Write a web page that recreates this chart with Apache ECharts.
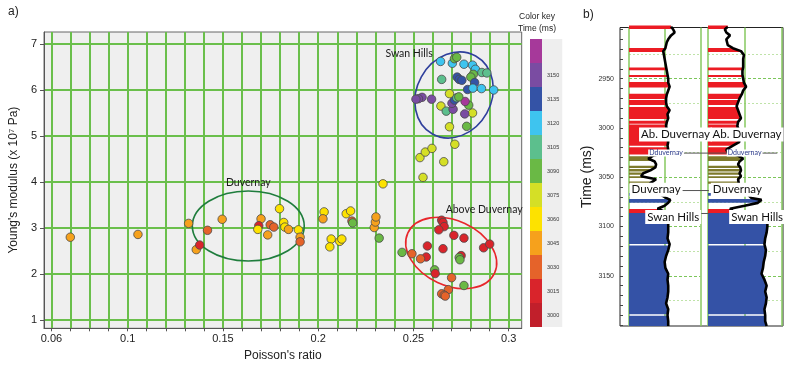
<!DOCTYPE html>
<html><head><meta charset="utf-8">
<script src="https://cdn.jsdelivr.net/npm/echarts@6/dist/echarts.min.js"></script>
<style>html,body{margin:0;padding:0;background:#fff}#c{width:800px;height:369px}</style>
</head><body><div id="c"></div>
<script>
// ===== Panel a: crossplot data =====
const poisson = [0.0699,0.1054,0.1320,0.1360,0.1378,0.1419,0.1496,0.1700,0.1688,0.1683,0.1735,0.1748,0.1767,0.1797,0.1819,0.1825,0.1844,0.1896,0.1905,0.1905,
 0.2031,0.2025,0.2068,0.2061,0.2113,0.2124,0.2147,0.2170,0.2177,0.2181,0.2294,0.2300,0.2303,0.2320,0.2340,
 0.2550,0.2534,0.2562,0.2597,0.2659,0.2717,
 0.2689,0.2779,0.2810,0.2769,0.2790,0.2771,0.2644,0.2672,0.2708,0.2702,0.2715,0.2727,0.2738,0.2689,0.2595,0.2545,0.2526,0.2513,
 0.2648,0.2642,0.2704,0.2715,0.2727,0.2765,0.2810,0.2825,0.2859,0.2885,0.2814,0.2801,0.2729,0.2740,0.2754,0.2821,0.2784,0.2812,0.2857,0.2921,
 0.2648,0.2655,0.2661,0.2633,0.2712,0.2765,0.2573,0.2655,0.2868,0.2900,0.2750,0.2567,
 0.2440,0.2492,0.2537,0.2740,0.2744,0.2611,0.2614,0.2700,0.2765,0.2683,0.2648,0.2661,0.2667];
const youngs = [2.80,2.86,3.10,2.53,2.63,2.95,3.19,3.20,3.05,2.97,2.85,3.07,3.02,3.42,3.12,3.02,2.97,2.96,2.80,2.70,
 3.35,3.20,2.76,2.59,2.71,2.76,3.31,3.37,3.15,3.11,3.01,3.13,3.24,2.78,3.96,
 4.10,4.53,4.65,4.73,4.44,4.82,
 5.20,5.21,5.50,5.48,5.67,5.75,5.65,5.54,5.58,5.71,5.78,5.83,5.85,5.92,5.80,5.84,5.81,5.80,
 6.23,6.62,6.58,6.68,6.71,6.56,6.54,6.45,6.38,6.37,6.34,6.28,6.28,6.23,6.21,6.16,6.01,6.04,6.03,6.00,
 3.17,3.12,3.03,2.96,2.84,2.78,2.61,2.55,2.57,2.65,2.40,2.37,
 2.47,2.44,2.33,2.36,2.31,2.09,2.01,1.92,1.75,1.66,1.57,1.54,1.52];
const timeMs = [3038,3038,3038,3038,3008,3022,3038,3038,3008,3052,3038,3022,3022,3052,3052,3052,3038,3052,3038,3022,
 3052,3038,3052,3052,3052,3052,3052,3052,3022,3082,3038,3038,3038,3082,3052,
 3068,3068,3068,3068,3068,3068,
 3068,3082,3068,3142,3082,3158,3068,3098,3142,3142,3128,3098,3082,3068,3142,3142,3142,3142,
 3098,3112,3112,3082,3082,3112,3112,3112,3098,3098,3082,3082,3128,3128,3128,3128,3128,3112,3112,3112,
 3008,3008,3008,3008,3008,3008,3008,3008,3008,3008,3008,3008,
 3082,3022,3022,3082,3082,3082,3008,3022,3082,3022,3022,3022,3022];
const xTickValues = [0.06,0.07,0.08,0.09,0.1,0.11,0.12,0.13,0.14,0.15,0.16,0.17,0.18,0.19,0.2,0.21,0.22,0.23,0.24,0.25,0.26,0.27,0.28,0.29,0.3];
const xLabelValues = [0.06,0.1,0.15,0.2,0.25,0.3];
const yTickValues = [1,2,3,4,5,6,7];
// colour key (bottom to top)
const keyLower  = [2985,3000,3015,3030,3045,3060,3075,3090,3105,3120,3135,3150];
const keyUpper  = [3000,3015,3030,3045,3060,3075,3090,3105,3120,3135,3150,3165];
const keyLabels = ['3000','3015','3030','3045','3060','3075','3090','3105','3120','3135','3150',' '];
const keyColors = ['#c11f2b','#d9242b','#e5632a','#f6a11c','#fde200','#d5df26','#6ab945','#5cbf8d','#3ec4ef','#3453a6','#7a4ca2','#a6399a'];
// zones
const zoneNames = ['Duvernay','Swan Hills','Above Duvernay'];
const zoneCenterX = [0.1633,0.2713,0.2698];
const zoneCenterY = [3.043,5.891,2.457];
const zoneRadiusX = [0.02937,0.02339,0.02507];
const zoneRadiusY = [0.761,0.813,0.7065];
const zoneTiltDeg = [0,-61,24.9];
const zoneLabelX = [0.1633,0.2477,0.2871];
const zoneLabelY = [3.98,6.79,3.39];
const zoneColors = ['#1f7d3d','#2f3f9c','#e8262b'];

// ===== Panel b: well log data =====
const logTime = [2897,2900,2903,2906,2910,2913,2916,2919,2922,2926,2930,2934,2938,2942,2946,2950,2954,2958,2962,2966,2970,2974,2978,2982,2986,2990,2994,2998,3002,3006,3010,3014,3018,3022,3025,3028,3031,3034,3037,3040,3043,3046,3049,3052,3056,3060,3064,3068,3071,3073,3076,3079,3082,3085,3088,3092,3096,3100,3106,3112,3118,3124,3130,3136,3142,3148,3154,3160,3166,3172,3178,3184,3190,3196,3201];
const logTrack1 = [0.59,0.62,0.64,0.59,0.55,0.53,0.52,0.51,0.48,0.49,0.50,0.51,0.52,0.53,0.54,0.55,0.55,0.57,0.55,0.53,0.52,0.52,0.53,0.57,0.54,0.55,0.53,0.52,0.53,0.54,0.53,0.55,0.54,0.55,0.53,0.34,0.27,0.36,0.38,0.37,0.30,0.20,0.17,0.38,0.30,0.25,0.35,0.45,0.52,0.58,0.55,0.50,0.40,0.50,0.53,0.54,0.55,0.55,0.55,0.54,0.57,0.55,0.52,0.50,0.51,0.55,0.54,0.55,0.55,0.54,0.52,0.55,0.54,0.55,0.55];
const logTrack2 = [0.27,0.23,0.25,0.30,0.25,0.26,0.27,0.34,0.45,0.49,0.48,0.48,0.48,0.47,0.47,0.48,0.49,0.52,0.48,0.46,0.43,0.41,0.39,0.41,0.43,0.45,0.41,0.40,0.42,0.41,0.40,0.43,0.34,0.25,0.27,0.41,0.48,0.43,0.41,0.44,0.45,0.43,0.45,0.41,0.42,0.45,0.50,0.55,0.59,0.73,0.68,0.50,0.30,0.35,0.72,0.80,0.81,0.81,0.80,0.78,0.77,0.79,0.78,0.76,0.75,0.73,0.77,0.80,0.78,0.80,0.79,0.77,0.78,0.78,0.80];
const lithoTop  = [2896,2918.8,2938.5,2946.3,2953.4,2965.2,2971.6,2978.7,2992.6,2996.5,3019.5,3028.8,3038.3,3041.7,3045.1,3049.1,3054.2,3066,3072,3082.3,3086.3,3119.2,3190.5];
const lithoBase = [2899.5,2922.9,2941.4,2948.3,2958.8,2970.6,2976.7,2990.9,2995.8,3018,3027,3033.6,3040.7,3044.1,3047.5,3050.8,3056.6,3068.8,3076,3086.3,3117.8,3189,3201];
const lithoUnit = ['A','A','A','A','A','A','A','A','A','A','A','D','D','D','D','D','D','S','S','A','S','S','S'];
const lithoColors = {A:'#ec1c24', D:'#7e7a2c', S:'#3452a6'};
const timeLabelValues = [2950,3000,3050,3100,3150];
const timeTickValues = [2900,2910,2920,2930,2940,2950,2960,2970,2980,2990,3000,3010,3020,3030,3040,3050,3060,3070,3080,3090,3100,3110,3120,3130,3140,3150,3160,3170,3180,3190,3200];
const timeMajorGrid = [2950,3000,3050,3100,3150];
const timeMinorGrid = [2925,2975,3025,3075,3125,3175];
const markerText = ['Ab. Duvernay','Dduvernay','Duvernay','Swan Hills'];
const markerTime = [3006.5,3025.5,3062.7,3090.4];

// annotation placement (track units)
const markerPos1 = [0.652,0.52,0.38,0.62];
const markerPos2 = [0.532,0.50,0.40,0.67];
const markerLineTime = [3025.5,3063.5,3086.8];
const markerLineFrom = [0.55,0.7,0.9];
const markerLineTo = [2.08,1.12,1.12];

const FONT = "'Liberation Sans', Arial, sans-serif";
const chart = echarts.init(document.getElementById('c'));

function interp(vals, t) {
  if (t <= logTime[0]) return vals[0];
  for (let k = 1; k < logTime.length; k++) {
    if (t <= logTime[k]) {
      const f = (t - logTime[k-1]) / (logTime[k] - logTime[k-1]);
      return vals[k-1] + f * (vals[k] - vals[k-1]);
    }
  }
  return vals[vals.length-1];
}
function lithoRender(vals) {
  return function (params, api) {
    const i = params.dataIndex;
    const t0 = lithoTop[i], t1 = lithoBase[i];
    const pts = [api.coord([0, t0]), api.coord([interp(vals, t0), t0])];
    for (let k = 0; k < logTime.length; k++) {
      if (logTime[k] > t0 && logTime[k] < t1) pts.push(api.coord([vals[k], logTime[k]]));
    }
    pts.push(api.coord([interp(vals, t1), t1]));
    pts.push(api.coord([0, t1]));
    return {type:'polygon', shape:{points:pts}, style:{fill: lithoColors[lithoUnit[i]]}};
  };
}
function labelRender(pos) {
  return function (params, api) {
    const i = params.dataIndex;
    const p = api.coord([pos[i], markerTime[i]]);
    const small = markerText[i] === 'Dduvernay';
    return {type:'text', x:p[0], y:p[1], style:{
      text: markerText[i], align:'center', verticalAlign:'middle',
      font: small ? "7px Lato, sans-serif" : "11.5px Lato, sans-serif",
      fill: small ? '#2b3a8a' : '#111',
      backgroundColor:'#fff', padding: small ? [0,1] : [1,2]
    }};
  };
}

const trackX = (gi) => ({gridIndex:gi, type:'value', min:0, max:1, interval:0.5,
  axisLine:{show:false}, axisTick:{show:false}, axisLabel:{show:false},
  splitLine:{show:true, lineStyle:{color:'#86c95f', width:1.5}}});
const trackY = (gi, vals, major) => ({gridIndex:gi, type:'value', inverse:true, min:2898, max:3201,
  axisLine:{show:false}, axisLabel:{show:false},
  axisTick:{show:false, customValues: vals},
  splitLine:{show:true, lineStyle: major ? {color:'#7cc65a', width:1, type:[3,2]} : {color:'#bfe3a8', width:1, type:[2,2]}}});

const option = {
  animation:false,
  textStyle:{fontFamily:FONT},
  grid:[
    {left:43.5, top:32, width:478.2, height:296.3, show:true, backgroundColor:'#efefef', borderColor:'#666', borderWidth:1},
    {left:620, top:27.5, width:163, height:298.5, show:true, backgroundColor:'#fff', borderColor:'#222', borderWidth:1},
    {left:629, top:27.5, width:71.3, height:298.5},
    {left:708, top:27.5, width:73.3, height:298.5}
  ],
  xAxis:[
    {gridIndex:0, type:'value', min:0.0561, max:0.3068,
     name:"Poisson's ratio", nameLocation:'middle', nameGap:19, nameTextStyle:{fontSize:12, color:'#222', fontFamily:FONT},
     axisLine:{show:true, onZero:false, lineStyle:{color:'#555'}},
     axisTick:{show:true, customValues:xTickValues, length:3, lineStyle:{color:'#555'}},
     axisLabel:{customValues:xLabelValues, fontSize:11, color:'#222', margin:5, formatter:(v)=>String(+v.toFixed(2))},
     splitLine:{show:true, lineStyle:{color:'#6abf4b', width:2}}},
    {gridIndex:1, type:'value', min:0, max:1, show:false},
    trackX(2), trackX(3)
  ],
  yAxis:[
    {gridIndex:0, type:'value', min:0.82, max:7.26,
     name:"Young's modulus (x 10\u2077 Pa)", nameLocation:'middle', nameGap:20, nameRotate:90,
     nameTextStyle:{fontSize:12, color:'#222', fontFamily:FONT},
     axisLine:{show:true, onZero:false, lineStyle:{color:'#555'}},
     axisTick:{show:true, customValues:yTickValues, length:4, lineStyle:{color:'#555'}},
     axisLabel:{customValues:yTickValues, fontSize:11, color:'#222', margin:7},
     splitLine:{show:true, lineStyle:{color:'#6abf4b', width:2}}},
    {gridIndex:1, type:'value', inverse:true, min:2898, max:3201,
     name:'Time (ms)', nameLocation:'middle', nameGap:19, nameRotate:90,
     nameTextStyle:{fontSize:14, color:'#222', fontFamily:FONT},
     axisLine:{show:false},
     axisTick:{show:true, inside:true, customValues:timeTickValues, length:3, lineStyle:{color:'#444'}},
     axisLabel:{customValues:timeLabelValues, fontSize:7, color:'#333', margin:6, formatter:(v)=>String(v)},
     splitLine:{show:false}},
    trackY(2, timeMajorGrid, true), trackY(2, timeMinorGrid, false),
    trackY(3, timeMajorGrid, true), trackY(3, timeMinorGrid, false)
  ],
  visualMap:{
    type:'piecewise', seriesIndex:0, dimension:2, orient:'vertical', align:'left',
    left:530, top:39, itemWidth:12, itemHeight:24, itemGap:0, itemSymbol:'rect',
    padding:[0,3,0,0], backgroundColor:'#eeeeee', textGap:5, hoverLink:false, selectedMode:false,
    textStyle:{fontSize:5.5, color:'#333'},
    pieces: keyLower.map((lo,i)=>({gte:lo, lt:keyUpper[i], label:keyLabels[i], color:keyColors[i]}))
  },
  graphic:[
    {type:'text', left:8, top:6, style:{text:'a)', font:"12px "+FONT, fill:'#222'}},
    {type:'text', left:583, top:9, style:{text:'b)', font:"12px "+FONT, fill:'#222'}},
    {type:'text', x:537, y:17, style:{text:'Color key', font:"8.5px "+FONT, fill:'#222', align:'center', verticalAlign:'middle'}},
    {type:'text', x:537, y:29, style:{text:'Time (ms)', font:"8.5px "+FONT, fill:'#222', align:'center', verticalAlign:'middle'}}
  ],
  series:[
    {type:'scatter', xAxisIndex:0, yAxisIndex:0, z:3, symbolSize:8.5,
     itemStyle:{borderColor:'#4a4a4a', borderWidth:0.8, opacity:1},
     data: poisson.map((x,i)=>[x, youngs[i], timeMs[i]])},
    {type:'custom', xAxisIndex:0, yAxisIndex:0, z:2, silent:true,
     data: zoneNames.map((n,i)=>[zoneCenterX[i], zoneCenterY[i]]),
     renderItem:(params, api)=>{
       const i = params.dataIndex;
       const c = api.coord([zoneCenterX[i], zoneCenterY[i]]);
       const rx = api.size([zoneRadiusX[i], 0])[0];
       const ry = api.size([0, zoneRadiusY[i]])[1];
       const lp = api.coord([zoneLabelX[i], zoneLabelY[i]]);
       return {type:'group', children:[
         {type:'ellipse', x:c[0], y:c[1], rotation:-zoneTiltDeg[i]*Math.PI/180,
          shape:{cx:0, cy:0, rx:rx, ry:ry}, style:{fill:'none', stroke:zoneColors[i], lineWidth:1.6}},
         {type:'text', x:lp[0], y:lp[1], style:{text:zoneNames[i], font:"10.5px Lato, sans-serif", fill:'#1a1a1a', align:'center', verticalAlign:'middle'}}
       ]};
     }},
    {type:'custom', xAxisIndex:2, yAxisIndex:2, z:2, silent:true,
     data: lithoTop.map((t,i)=>[0, t]), renderItem: lithoRender(logTrack1)},
    {type:'custom', xAxisIndex:3, yAxisIndex:4, z:2, silent:true,
     data: lithoTop.map((t,i)=>[0, t]), renderItem: lithoRender(logTrack2)},
    {type:'custom', xAxisIndex:2, yAxisIndex:2, z:3, silent:true,
     data: markerLineTime.map((t)=>[0, t]),
     renderItem:(params, api)=>{
       const i = params.dataIndex;
       const a = api.coord([markerLineFrom[i], markerLineTime[i]]);
       const b = api.coord([markerLineTo[i], markerLineTime[i]]);
       return {type:'line', shape:{x1:a[0], y1:a[1], x2:b[0], y2:b[1]}, style:{stroke:'#555', lineWidth:1}};
     }},
    {type:'line', xAxisIndex:2, yAxisIndex:2, z:4, symbol:'none', silent:true,
     lineStyle:{color:'#000', width:2.6}, data: logTime.map((t,i)=>[logTrack1[i], t])},
    {type:'line', xAxisIndex:3, yAxisIndex:4, z:4, symbol:'none', silent:true,
     lineStyle:{color:'#000', width:2.6}, data: logTime.map((t,i)=>[logTrack2[i], t])},
    {type:'custom', xAxisIndex:2, yAxisIndex:2, z:5, silent:true,
     data: markerTime.map((t)=>[0, t]), renderItem: labelRender(markerPos1)},
    {type:'custom', xAxisIndex:3, yAxisIndex:4, z:5, silent:true,
     data: markerTime.map((t)=>[0, t]), renderItem: labelRender(markerPos2)}
  ]
};
chart.setOption(option);
</script></body></html>
